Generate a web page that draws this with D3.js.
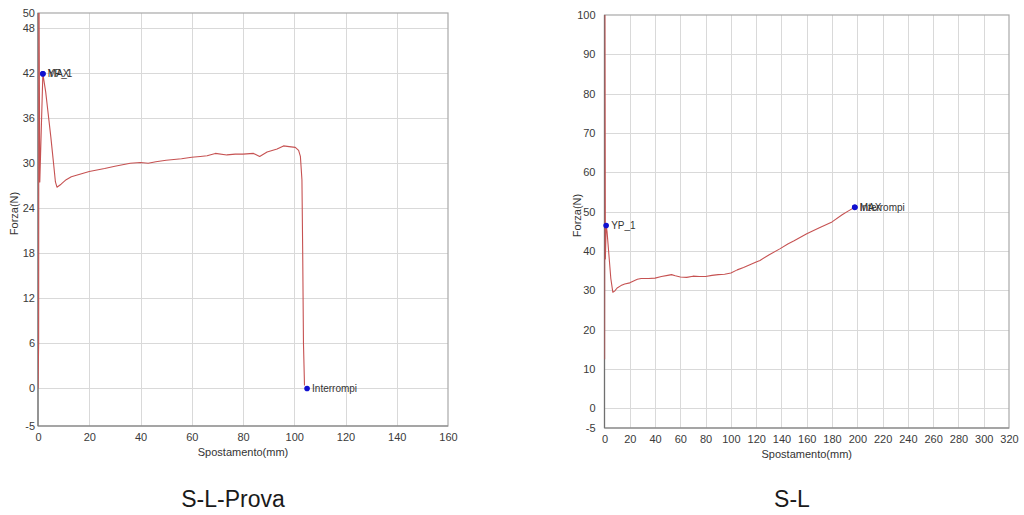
<!DOCTYPE html>
<html>
<head>
<meta charset="utf-8">
<script src="https://cdn.jsdelivr.net/npm/d3@7"></script>
<style>
  html, body { margin: 0; padding: 0; background: #fff; }
  svg { display: block; }
</style>
</head>
<body>
<svg id="chart" width="1024" height="515"></svg>
<script>
// S-L-Prova: displacement (mm) vs force (N)
const provaX = [0, 0.25, 0.35, 0.7, 1.9, 3, 4, 5, 6, 6.8, 7.4, 9, 11, 13, 15, 18, 20, 23, 26, 30, 33, 36, 40, 43, 46, 50, 53, 56, 60, 63.3, 66, 69.2, 73.7, 77, 80, 84.1, 86.5, 89.4, 93.3, 95.8, 98, 100.4, 101.7, 102.4, 103, 103.3, 103.6, 104];
const provaY = [0, 6, 56, 27.5, 41.9, 39.5, 36.5, 33.5, 30.2, 27.5, 26.8, 27.2, 27.8, 28.2, 28.4, 28.7, 28.9, 29.1, 29.3, 29.6, 29.8, 30.0, 30.1, 30.0, 30.2, 30.4, 30.5, 30.6, 30.8, 30.9, 31.0, 31.3, 31.1, 31.2, 31.2, 31.3, 30.9, 31.5, 31.9, 32.3, 32.2, 32.1, 31.7, 30.9, 27.8, 18, 6, 0.4];

// S-L: displacement (mm) vs force (N)
const slX = [0.1, 0.3, 0.7, 1.3, 2, 3.5, 5, 6.6, 8, 10, 13, 16, 20, 23, 26, 29, 35, 40, 45, 50, 53, 56, 60, 65, 70, 75, 80, 85, 90, 95, 100, 105, 110, 115, 120, 123, 130, 139, 145, 150, 160, 170, 180, 188, 193, 198];
const slY = [12.5, 108, 38, 46.5, 45, 39, 33, 29.5, 29.8, 30.6, 31.2, 31.6, 31.9, 32.4, 32.8, 33.0, 33.0, 33.1, 33.5, 33.8, 34.0, 33.7, 33.4, 33.3, 33.6, 33.5, 33.5, 33.8, 34.0, 34.1, 34.4, 35.2, 35.8, 36.5, 37.2, 37.6, 39.0, 40.6, 41.8, 42.6, 44.4, 45.9, 47.4, 49.2, 50.2, 51.1];

// Axis ticks
const provaXTicks = [0, 20, 40, 60, 80, 100, 120, 140, 160];
const provaYTicks = [-5, 0, 6, 12, 18, 24, 30, 36, 42, 48, 50];
const slXTicks = [0, 20, 40, 60, 80, 100, 120, 140, 160, 180, 200, 220, 240, 260, 280, 300, 320];
const slYTicks = [-5, 0, 10, 20, 30, 40, 50, 60, 70, 80, 90, 100];

// Marked points: [x, y, label]
const provaMarks = [[1.9, 41.9, "MAX"], [1.9, 41.9, "YP_1"], [105, 0, "Interrompi"]];
const slMarks = [[1.3, 46.5, "YP_1"], [198, 51.1, "MAX"], [198, 51.1, "Interrompi"]];

const titles = ["S-L-Prova", "S-L"];

const svg = d3.select("#chart");
const FONT = "'Liberation Sans', Arial, sans-serif";

function drawPanel(opt) {
  const x = d3.scaleLinear().domain(opt.xDomain).range([opt.left, opt.right]);
  const y = d3.scaleLinear().domain(opt.yDomain).range([opt.bottom, opt.top]);
  const g = svg.append("g");

  // grid
  g.append("g").selectAll("line")
    .data(opt.xTicks.filter(t => t > opt.xDomain[0] && t < opt.xDomain[1]))
    .join("line")
    .attr("x1", d => Math.round(x(d)) + 0.5).attr("x2", d => Math.round(x(d)) + 0.5)
    .attr("y1", opt.top).attr("y2", opt.bottom)
    .attr("stroke", "#d9d9d9").attr("stroke-width", 1);
  g.append("g").selectAll("line")
    .data(opt.yTicks.filter(t => t > opt.yDomain[0] && t < opt.yDomain[1]))
    .join("line")
    .attr("y1", d => Math.round(y(d)) + 0.5).attr("y2", d => Math.round(y(d)) + 0.5)
    .attr("x1", opt.left).attr("x2", opt.right)
    .attr("stroke", "#d9d9d9").attr("stroke-width", 1);

  // frame
  g.append("rect")
    .attr("x", opt.left).attr("y", opt.top)
    .attr("width", opt.right - opt.left).attr("height", opt.bottom - opt.top)
    .attr("fill", "none").attr("stroke", "#a8a8a8").attr("stroke-width", 1.2);
  g.append("line").attr("x1", opt.left).attr("x2", opt.left)
    .attr("y1", opt.top).attr("y2", opt.bottom).attr("stroke", "#707070").attr("stroke-width", 1.2);
  g.append("line").attr("x1", opt.left).attr("x2", opt.right)
    .attr("y1", opt.bottom).attr("y2", opt.bottom).attr("stroke", "#808080").attr("stroke-width", 1.2);

  // axes (labels only)
  const fmt = d => String(d);
  const xAxis = d3.axisBottom(x).tickValues(opt.xTicks).tickFormat(fmt).tickSize(0).tickPadding(7);
  const yAxis = d3.axisLeft(y).tickValues(opt.yTicks).tickFormat(fmt).tickSize(0).tickPadding(opt.yPad);
  const gx = g.append("g").attr("transform", `translate(0,${opt.bottom})`).call(xAxis);
  const gy = g.append("g").attr("transform", `translate(${opt.left},0)`).call(yAxis);
  [gx, gy].forEach(a => {
    a.select(".domain").remove();
    a.selectAll("text").attr("font-family", FONT).attr("font-size", 11).attr("fill", "#3a3a3a");
  });

  // axis titles
  g.append("text")
    .attr("x", (opt.left + opt.right) / 2).attr("y", opt.bottom + 30)
    .attr("text-anchor", "middle").attr("font-family", FONT).attr("font-size", 11)
    .attr("fill", "#333").text("Spostamento(mm)");
  g.append("text")
    .attr("transform", `translate(${opt.left - opt.yTitleGap},${(opt.top + opt.bottom) / 2 - 6}) rotate(-90)`)
    .attr("text-anchor", "middle").attr("font-family", FONT).attr("font-size", 11)
    .attr("fill", "#333").text("Forza(N)");

  // curve, clipped to plot area
  const clipId = "clip-" + opt.id;
  svg.append("defs").append("clipPath").attr("id", clipId)
    .append("rect").attr("x", opt.left).attr("y", opt.top)
    .attr("width", opt.right - opt.left).attr("height", opt.bottom - opt.top);
  const pts = opt.xs.map((v, i) => [v, opt.ys[i]]);
  g.append("path")
    .attr("clip-path", `url(#${clipId})`)
    .attr("d", d3.line().x(d => x(d[0])).y(d => y(d[1]))(pts))
    .attr("fill", "none").attr("stroke", "#c65252").attr("stroke-width", 1.1)
    .attr("stroke-linejoin", "round");

  // marked points
  const m = g.append("g");
  m.selectAll("circle").data(opt.marks).join("circle")
    .attr("cx", d => x(d[0])).attr("cy", d => y(d[1])).attr("r", 2.8)
    .attr("fill", "#1010d0");
  m.selectAll("text").data(opt.marks).join("text")
    .attr("x", d => x(d[0]) + 5).attr("y", d => y(d[1]) + 3.5)
    .attr("font-family", FONT).attr("font-size", 10).attr("fill", "#333")
    .text(d => d[2]);

  // panel title
  svg.append("text")
    .attr("x", opt.titleX).attr("y", 507)
    .attr("text-anchor", "middle").attr("font-family", FONT).attr("font-size", 23)
    .attr("fill", "#1a1a1a").text(opt.title);
}

drawPanel({
  id: "prova", left: 38, right: 448, top: 13, bottom: 426,
  xDomain: [0, 160], yDomain: [-5, 50],
  xTicks: provaXTicks, yTicks: provaYTicks, yPad: 3, yTitleGap: 20,
  xs: provaX, ys: provaY, marks: provaMarks,
  title: titles[0], titleX: 233
});

drawPanel({
  id: "sl", left: 604.5, right: 1009, top: 15, bottom: 428,
  xDomain: [0, 320], yDomain: [-5, 100],
  xTicks: slXTicks, yTicks: slYTicks, yPad: 9, yTitleGap: 24,
  xs: slX, ys: slY, marks: slMarks,
  title: titles[1], titleX: 792
});
</script>
</body>
</html>
